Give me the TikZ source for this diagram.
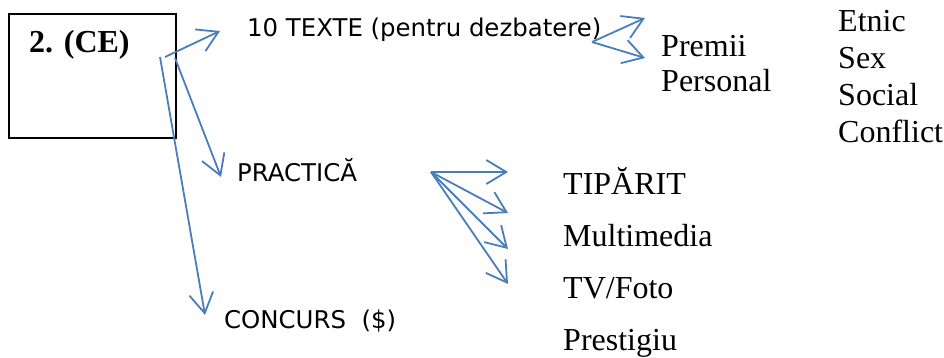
\documentclass[tikz,border=0pt]{standalone}
\usepackage{fontspec}
\setmainfont{Liberation Serif}
\newfontfamily\verd{DejaVu Sans}
\usetikzlibrary{arrows.meta}
\definecolor{arrblue}{HTML}{4A7EBB}
\tikzset{
  conn/.style={draw=arrblue, line width=1.8pt, -{Straight Barb[length=20pt,width=24pt,line width=1.8pt]}},
  sanslbl/.style={anchor=base west, inner sep=0pt, font=\verd\fontsize{24.4}{28}\selectfont},
  seriflbl/.style={anchor=base west, inner sep=0pt, font=\fontsize{32}{36}\selectfont},
}
\begin{document}
\begin{tikzpicture}[x=1pt,y=-1pt]
\useasboundingbox (0,0) rectangle (944,358);
% main box
\node[draw=black, line width=2pt, minimum width=167pt, minimum height=124pt, inner sep=0pt, anchor=north west] (box) at (8,13) {};
\node[anchor=base west, inner sep=0pt, font=\bfseries\fontsize{32}{36}\selectfont] (ce) at (29,53) {2. (CE)};
% labels
\node[sanslbl] (texte) at (247,37) {10 TEXTE (pentru dezbatere)};
\node[sanslbl] (practica) at (237,182) {PRACTICĂ};
\node[sanslbl] (concurs) at (224,328) {CONCURS\ \ (\$)};
\node[seriflbl] (premii) at (661,57) {Premii};
\node[seriflbl] (personal) at (661,92) {Personal};
\node[seriflbl] (etnic) at (838,32) {Etnic};
\node[seriflbl] (sex) at (838,69) {Sex};
\node[seriflbl] (social) at (838,106) {Social};
\node[seriflbl] (conflict) at (838,143) {Conflict};
\node[seriflbl] (tiparit) at (563,194) {TIPĂRIT};
\node[seriflbl] (multimedia) at (563,246) {Multimedia};
\node[seriflbl] (tvfoto) at (563,298) {TV/Foto};
\node[seriflbl] (prestigiu) at (563,350) {Prestigiu};
% connector endpoints
\coordinate (s1) at (165,57);
\coordinate (t1) at (220,31);
\coordinate (s2) at (175,58);
\coordinate (t2) at (221,177);
\coordinate (s3) at (160,57);
\coordinate (t3) at (205,315);
\coordinate (s4) at (592,42);
\coordinate (t4a) at (645,18);
\coordinate (t4b) at (645,58);
\coordinate (s5) at (431,172);
\coordinate (t5a) at (508,172);
\coordinate (t5b) at (508,213);
\coordinate (t5c) at (508,249);
\coordinate (t5d) at (508,284);
% connectors
\draw[conn] (s1) -- (t1);
\draw[conn] (s2) -- (t2);
\draw[conn] (s3) -- (t3);
\draw[conn] (s4) -- (t4a);
\draw[conn] (s4) -- (t4b);
\draw[conn] (s5) -- (t5a);
\draw[conn] (s5) -- (t5b);
\draw[conn] (s5) -- (t5c);
\draw[conn] (s5) -- (t5d);
\end{tikzpicture}
\end{document}
